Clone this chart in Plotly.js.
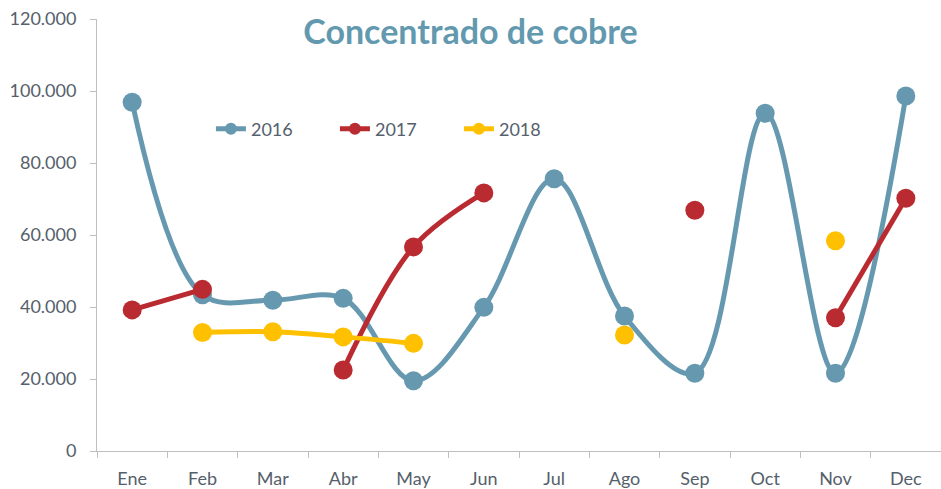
<!DOCTYPE html>
<html>
<head>
<meta charset="utf-8">
<script src="https://cdn.plot.ly/plotly-3.0.1.min.js"></script>
<style>html,body{margin:0;padding:0;background:#fff;}#chart{width:941px;height:489px;}</style>
</head>
<body>
<div id="chart"></div>
<script>
const months = ["Ene","Feb","Mar","Abr","May","Jun","Jul","Ago","Sep","Oct","Nov","Dec"];
const y2016 = [96900, 43400, 41900, 42400, 19500, 39900, 75600, 37500, 21600, 93800, 21600, 98600];
const y2017 = [39200, 44900, null, 22500, 56700, 71700, null, null, 66900, null, 37000, 70200];
const y2018 = [null, 32900, 33100, 31700, 29900, null, null, 32200, null, null, 58400, null];
const seriesNames = ["2016", "2017", "2018"];
const colors = ["#6699B0", "#B92B30", "#FFC000"];
const textColor = "#55606B";
const FONT = "Lato, 'Open Sans', sans-serif";

const allY = [y2016, y2017, y2018];
const traces = allY.map((ys, i) => ({
  type: "scatter",
  mode: "lines+markers",
  name: seriesNames[i],
  x: months,
  y: ys,
  connectgaps: false,
  line: {color: colors[i], width: 5, shape: "spline", smoothing: 1},
  marker: {color: colors[i], size: 19}
}));

const layout = {
  width: 941, height: 489,
  margin: {l: 97, r: 0, t: 19, b: 38},
  paper_bgcolor: "#fff", plot_bgcolor: "#fff",
  separators: ",.",
  font: {family: FONT, color: textColor, size: 18},
  title: {
    text: "<b>Concentrado de cobre</b>",
    font: {family: FONT, size: 34, color: "#6399AF"},
    x: 0.5, xref: "container", xanchor: "center",
    y: 0.935, yref: "container", yanchor: "middle"
  },
  showlegend: true,
  legend: {
    orientation: "h",
    x: 0.135, xanchor: "left",
    y: 0.745, yanchor: "middle",
    font: {family: FONT, size: 18, color: textColor},
    bgcolor: "rgba(0,0,0,0)",
    itemsizing: "constant",
    entrywidth: 79,
    entrywidthmode: "pixels"
  },
  xaxis: {
    type: "category",
    range: [-0.5, 11.5],
    showgrid: false,
    zeroline: false,
    showline: true,
    linecolor: "#BFBFBF",
    linewidth: 1,
    ticks: "outside",
    tickson: "boundaries",
    ticklen: 6,
    tickcolor: "#BFBFBF",
    ticklabelstandoff: 11,
    tickfont: {family: FONT, size: 18, color: textColor},
    fixedrange: true
  },
  yaxis: {
    range: [0, 120000],
    dtick: 20000,
    tickformat: ",d",
    showgrid: false,
    zeroline: false,
    showline: true,
    linecolor: "#BFBFBF",
    linewidth: 1,
    ticks: "outside",
    ticklen: 6,
    tickcolor: "#BFBFBF",
    ticklabelstandoff: 10,
    tickfont: {family: FONT, size: 18, color: textColor},
    fixedrange: true
  }
};

Plotly.newPlot("chart", traces, layout, {displayModeBar: false, staticPlot: true});
</script>
</body>
</html>
